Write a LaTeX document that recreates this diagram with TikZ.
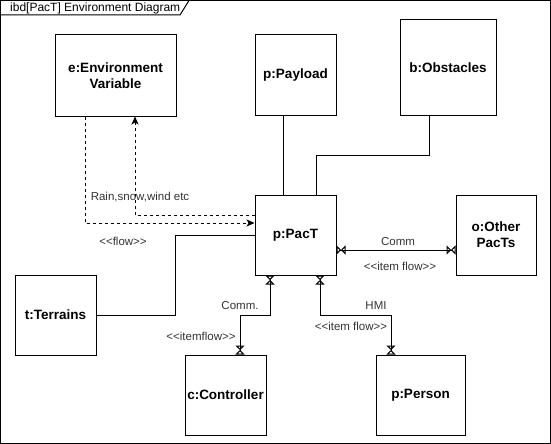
\documentclass[tikz,border=0pt]{standalone}
\usepackage{fontspec}
\setmainfont{Liberation Sans}
\usepackage{tikz}
\usetikzlibrary{arrows.meta,calc}
\definecolor{labelgray}{RGB}{51,51,51}

\begin{document}
\begin{tikzpicture}[
    x=1pt, y=-1pt,
    part/.style={rectangle, draw, line width=1pt, align=center, inner sep=0pt, font=\bfseries\fontsize{13.5}{16}\selectfont},
    flow/.style={line width=1pt, dash pattern=on 3pt off 3pt, -{Stealth[length=8pt,width=7pt,inset=2pt]}},
    itemflow/.style={line width=1pt, {Triangle[open,reversed,length=4.5pt,width=9pt,sep=0pt]Triangle[open,length=4.5pt,width=9pt,sep=0pt]}-{Triangle[open,length=4.5pt,width=9pt,sep=0pt]Triangle[open,reversed,length=4.5pt,width=9pt,sep=0pt]}},
    lbl/.style={font=\fontsize{11.5}{13}\selectfont, text=labelgray, inner sep=0pt},
]
    \useasboundingbox (0,0) rectangle (551,444);

    % Frame
    \draw[line width=1pt] (0.5,0.5) rectangle (550,443);
    \draw[line width=1pt] (0.5,15) -- (180,15) -- (189,0.5);
    \node[anchor=west, inner sep=0pt, font=\fontsize{12}{14}\selectfont] (title) at (10,8) {ibd[PacT] Environment Diagram};

    % Parts
    \node[part, minimum width=121pt, minimum height=81pt] (env) at (115.5,75.5) {e:Environment\\Variable};
    \node[part, minimum width=81pt, minimum height=80pt] (payload) at (295.5,75) {p:Payload};
    \node[part, minimum width=96pt, minimum height=95pt] (obst) at (448,67.5) {b:Obstacles};
    \node[part, minimum width=81pt, minimum height=80pt] (pact) at (295.5,235) {p:PacT};
    \node[part, minimum width=80pt, minimum height=80pt] (other) at (496,235) {o:Other\\PacTs};
    \node[part, minimum width=81pt, minimum height=80pt] (terr) at (55.5,315) {t:Terrains};
    \node[part, minimum width=81pt, minimum height=80pt] (ctrl) at (225.5,395) {c:Controller};
    \node[part, minimum width=89pt, minimum height=80pt] (person) at (420.5,395) {p:Person};

    % Connectors
    \draw[line width=1pt] ([xshift=-12.5pt]payload.south) -- ([xshift=-12.5pt]pact.north);
    \draw[line width=1pt] ([xshift=-19pt]obst.south) -- ++(0,40) -| ([xshift=20.5pt]pact.north);
    \draw[line width=1pt] (terr.east) -- ++(79,0) |- (pact.west);
    \draw[flow] ([xshift=-30.5pt]env.south) |- ([yshift=12pt]pact.west);
    \draw[flow] ([yshift=20pt]pact.west) -| ([xshift=19.5pt]env.south);
    \draw[itemflow] ([yshift=-15pt]pact.east) -- ([yshift=-15pt]other.west);
    \draw[itemflow] ([xshift=-25.5pt]pact.south) -- ++(0,40) -| ([xshift=14.5pt]ctrl.north);
    \draw[itemflow] ([xshift=24.5pt]pact.south) -- ++(0,40) -| ([xshift=-29.5pt]person.north);

    % Labels
    \node[lbl] (rain) at (140,197) {Rain,snow,wind etc};
    \node[lbl] (flowtag) at (123,241) {<{}<flow>{}>};
    \node[lbl] (comm) at (398,242) {Comm};
    \node[lbl] (commtag) at (400,266) {<{}<item flow>{}>};
    \node[lbl] (ctrlcomm) at (240,306) {Comm.};
    \node[lbl] (ctrltag) at (201,336) {<{}<itemflow>{}>};
    \node[lbl] (hmi) at (376,306) {HMI};
    \node[lbl] (hmitag) at (351,326) {<{}<item flow>{}>};
\end{tikzpicture}
\end{document}
